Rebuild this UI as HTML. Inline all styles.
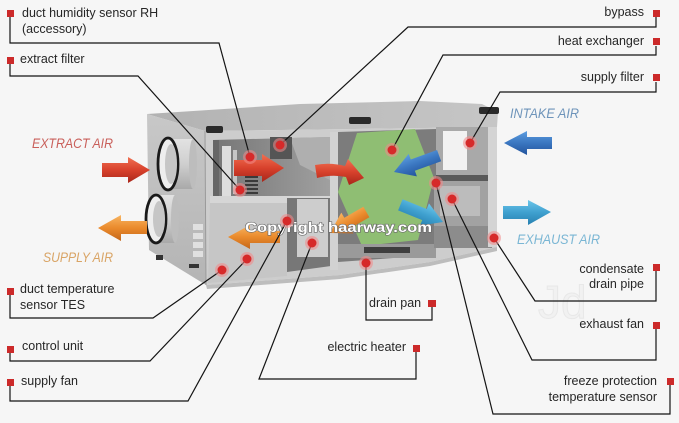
<!DOCTYPE html>
<html><head><meta charset="utf-8"><style>
html,body{margin:0;padding:0;background:#f6f6f6;}
svg{display:block;}
text{font-family:"Liberation Sans",sans-serif;}
</style></head><body>
<svg width="679" height="423" viewBox="0 0 679 423" xmlns="http://www.w3.org/2000/svg">
<defs>
<linearGradient id="gR" x1="0" y1="0" x2="0" y2="1"><stop offset="0" stop-color="#f07052"/><stop offset="0.5" stop-color="#d8412c"/><stop offset="1" stop-color="#a8261a"/></linearGradient>
<linearGradient id="gO" x1="0" y1="0" x2="0" y2="1"><stop offset="0" stop-color="#f8b562"/><stop offset="0.5" stop-color="#ea8a2c"/><stop offset="1" stop-color="#c4661a"/></linearGradient>
<linearGradient id="gB" x1="0" y1="0" x2="0" y2="1"><stop offset="0" stop-color="#5d9ee0"/><stop offset="0.5" stop-color="#3a76c0"/><stop offset="1" stop-color="#23549c"/></linearGradient>
<linearGradient id="gLB" x1="0" y1="0" x2="0" y2="1"><stop offset="0" stop-color="#6cc6ea"/><stop offset="0.5" stop-color="#3fa0cf"/><stop offset="1" stop-color="#2780b0"/></linearGradient>
<linearGradient id="gLeft" x1="0" y1="0" x2="0" y2="1"><stop offset="0" stop-color="#c8c8c8"/><stop offset="1" stop-color="#b4b4b4"/></linearGradient>
<linearGradient id="gTop" x1="0" y1="0" x2="1" y2="0"><stop offset="0" stop-color="#b2b2b2"/><stop offset="1" stop-color="#c6c6c6"/></linearGradient>
<linearGradient id="gIn" x1="0" y1="0" x2="1" y2="0"><stop offset="0" stop-color="#767676"/><stop offset="1" stop-color="#a0a0a0"/></linearGradient>
<linearGradient id="gTube" x1="0" y1="0" x2="0" y2="1"><stop offset="0" stop-color="#e2e2e2"/><stop offset="0.5" stop-color="#cfcfcf"/><stop offset="1" stop-color="#a9a9a9"/></linearGradient>
</defs>
<rect width="679" height="423" fill="#f6f6f6"/>

<!-- faint watermark -->
<text x="538" y="318" font-size="46" fill="#f1f1f1" stroke="#e8e8e8" stroke-width="1">Jd</text>

<!-- ===== UNIT ===== -->
<polygon points="147,114 300,104 420,101 482,104 498,112 497,127 205,131" fill="url(#gTop)"/>
<polygon points="147,114 205,131 206,285 149,250" fill="url(#gLeft)"/>
<polygon points="205,131 497,127 497,247 430,262 340,275 206,285" fill="#cdcdcd"/>
<line x1="205" y1="131" x2="206" y2="285" stroke="#9a9a9a" stroke-width="1"/>
<polygon points="206,285 340,275 430,262 497,247 497,251 430,266 340,279 207,289" fill="#bdbdbd"/>

<!-- upper-left compartment -->
<polygon points="213,140 330,137 330,197 213,199" fill="url(#gIn)"/>
<polygon points="290,138 330,137 330,180 300,165" fill="#afafaf"/>
<rect x="213" y="140" width="6" height="58" fill="#666"/>
<rect x="222" y="146" width="9" height="50" fill="#dedede"/>
<rect x="233" y="150" width="4" height="44" fill="#c6c6c6"/>
<g fill="#3a3a3a"><rect x="245" y="176" width="13" height="2"/><rect x="245" y="180" width="13" height="2"/><rect x="245" y="184" width="13" height="2"/><rect x="245" y="188" width="13" height="2"/><rect x="245" y="192" width="13" height="2"/></g>
<rect x="270" y="137" width="22" height="22" fill="#555"/>
<rect x="210" y="196" width="128" height="7" fill="#d6d6d6"/>

<!-- lower-left panel -->
<polygon points="210,203 287,203 287,276 208,283" fill="#c6c6c6"/>
<g fill="#e0e0e0"><rect x="193" y="224" width="10" height="6"/><rect x="193" y="233" width="10" height="6"/><rect x="193" y="242" width="10" height="6"/><rect x="193" y="251" width="10" height="6"/></g>
<rect x="189" y="264" width="10" height="4" fill="#333"/>
<rect x="156" y="255" width="7" height="5" fill="#333"/>

<!-- lower middle compartment -->
<polygon points="287,198 331,198 331,266 287,272" fill="#777"/>
<rect x="297" y="199" width="31" height="58" fill="#cdcdcd"/>
<rect x="330" y="132" width="8" height="138" fill="#d2d2d2"/>

<!-- heat exchanger compartment -->
<polygon points="338,132 436,129 436,255 338,262" fill="#7c7c7c"/>
<polygon points="357,133 415,129 434,178 418,240 362,246 338,192" fill="#8fbe73"/>
<rect x="338" y="244" width="98" height="14" fill="#9a9a9a"/>
<rect x="364" y="247" width="46" height="6" fill="#3e3e3e"/>

<!-- right section -->
<rect x="436" y="127" width="56" height="50" fill="#a9a9a9"/>
<rect x="443" y="131" width="24" height="39" fill="#f2f2f2"/>
<rect x="436" y="175" width="56" height="6" fill="#5a5a5a"/>
<rect x="434" y="181" width="58" height="52" fill="#a2a2a2"/>
<rect x="440" y="186" width="40" height="30" fill="#bcbcbc"/>
<rect x="434" y="226" width="58" height="22" fill="#8c8c8c"/>
<rect x="488" y="127" width="9" height="120" fill="#d4d4d4"/>

<!-- handles -->
<rect x="206" y="126" width="17" height="7" rx="2" fill="#2a2a2a"/>
<rect x="349" y="117" width="22" height="7" rx="2" fill="#2a2a2a"/>
<rect x="479" y="107" width="20" height="7" rx="2" fill="#2a2a2a"/>

<!-- duct ports -->
<rect x="168" y="139" width="25" height="50" fill="url(#gTube)"/>
<ellipse cx="193" cy="164" rx="4" ry="25" fill="#bdbdbd"/>
<ellipse cx="168" cy="164" rx="10" ry="26" fill="#eeeeee" stroke="#1a1a1a" stroke-width="2.8"/>
<ellipse cx="171" cy="164" rx="6" ry="20" fill="#c6c6c6"/>
<rect x="155" y="195" width="20" height="48" fill="url(#gTube)"/>
<ellipse cx="175" cy="219" rx="4" ry="24" fill="#bdbdbd"/>
<ellipse cx="156" cy="219" rx="10" ry="24" fill="#eeeeee" stroke="#1a1a1a" stroke-width="2.8"/>
<ellipse cx="159" cy="219" rx="6" ry="18" fill="#c6c6c6"/>

<!-- ===== ARROWS ===== -->
<polygon points="102,163 128,163 128,157 150,170 128,183 128,177 102,177" fill="url(#gR)"/>
<polygon points="98,228 121,215 121,221 147,221 147,234 121,234 121,241" fill="url(#gO)"/>
<polygon points="504,143 527,131 527,137 552,137 552,149 527,149 527,155" fill="url(#gB)"/>
<polygon points="503,206 528,206 528,200 551,212 528,225 528,219 503,219" fill="url(#gLB)"/>
<polygon points="234,160 262,160 262,154 284,168 262,182 262,176 234,176" fill="url(#gR)"/>
<path d="M315,165 Q330,162 345,166 L348,159 L364,178 L349,185 L346,177 Q332,174 317,178 Z" fill="url(#gR)"/>
<polygon points="228,237 250,225 250,231 280,231 280,243 250,243 250,249" fill="url(#gO)"/>
<polygon transform="translate(330,233) rotate(-30)" points="0,0 20,-12 20,-6 42,-6 42,6 20,6 20,12" fill="url(#gO)"/>
<polygon transform="translate(394,172) rotate(-20)" points="0,0 20,-12 20,-6 48,-6 48,6 20,6 20,12" fill="url(#gB)"/>
<polygon transform="translate(443,222) rotate(22)" points="0,0 -20,-12 -20,-6 -46,-6 -46,6 -20,6 -20,12" fill="url(#gLB)"/>

<!-- copyright -->
<text x="245" y="232" font-family="Liberation Mono, monospace" font-size="14" font-weight="bold" fill="#ffffff" stroke="#6a6a6a" stroke-width="1.2" paint-order="stroke" textLength="187" lengthAdjust="spacingAndGlyphs">Copyright haarway.com</text>

<!-- ===== LEADER LINES ===== -->
<g fill="none" stroke="#141414" stroke-width="1.2">
<polyline points="10,17 10,43 219,43 250,157"/>
<polyline points="10,63 10,76 138,76 240,190"/>
<polyline points="656,17 656,27 408,27 280,145"/>
<polyline points="656,46 656,55 443,55 392,150"/>
<polyline points="656,82 656,92 500,92 470,143"/>
<polyline points="656,271 656,301 535,301 494,238"/>
<polyline points="656,329 656,360 532,360 452,199"/>
<polyline points="670,385 670,414 493,414 436,183"/>
<polyline points="432,307 432,320 366,320 366,263"/>
<polyline points="416,352 416,379 259,379 312,243"/>
<polyline points="10,386 10,401 188,401 287,221"/>
<polyline points="10,353 10,361 150,361 247,259"/>
<polyline points="10,295 10,318 153,318 222,270"/>
</g>

<!-- dots -->
<g>
<g fill="#f28a8a" opacity="0.55">
<circle cx="250" cy="157" r="7"/><circle cx="240" cy="190" r="7"/><circle cx="280" cy="145" r="7"/><circle cx="392" cy="150" r="7"/><circle cx="470" cy="143" r="7"/><circle cx="436" cy="183" r="7"/><circle cx="452" cy="199" r="7"/><circle cx="494" cy="238" r="7"/><circle cx="366" cy="263" r="7"/><circle cx="312" cy="243" r="7"/><circle cx="287" cy="221" r="7"/><circle cx="247" cy="259" r="7"/><circle cx="222" cy="270" r="7"/>
</g>
<g fill="#d62a2a">
<circle cx="250" cy="157" r="4.5"/><circle cx="240" cy="190" r="4.5"/><circle cx="280" cy="145" r="4.5"/><circle cx="392" cy="150" r="4.5"/><circle cx="470" cy="143" r="4.5"/><circle cx="436" cy="183" r="4.5"/><circle cx="452" cy="199" r="4.5"/><circle cx="494" cy="238" r="4.5"/><circle cx="366" cy="263" r="4.5"/><circle cx="312" cy="243" r="4.5"/><circle cx="287" cy="221" r="4.5"/><circle cx="247" cy="259" r="4.5"/><circle cx="222" cy="270" r="4.5"/>
</g>
</g>

<!-- squares -->
<g fill="#cc2a2a">
<rect x="7" y="10" width="7" height="7"/>
<rect x="7" y="57" width="7" height="7"/>
<rect x="653" y="10" width="7" height="7"/>
<rect x="653" y="38" width="7" height="7"/>
<rect x="653" y="74" width="7" height="7"/>
<rect x="653" y="264" width="7" height="7"/>
<rect x="653" y="322" width="7" height="7"/>
<rect x="667" y="378" width="7" height="7"/>
<rect x="428" y="300" width="8" height="7"/>
<rect x="413" y="345" width="7" height="7"/>
<rect x="7" y="288" width="7" height="7"/>
<rect x="7" y="346" width="7" height="7"/>
<rect x="7" y="379" width="7" height="7"/>
</g>

<!-- labels -->
<g font-size="12.5" fill="#262626">
<text x="22" y="17">duct humidity sensor RH</text>
<text x="22" y="33">(accessory)</text>
<text x="20" y="63">extract filter</text>
<text x="644" y="16" text-anchor="end">bypass</text>
<text x="644" y="45" text-anchor="end">heat exchanger</text>
<text x="644" y="81" text-anchor="end">supply filter</text>
<text x="644" y="273" text-anchor="end">condensate</text>
<text x="644" y="288" text-anchor="end">drain pipe</text>
<text x="644" y="328" text-anchor="end">exhaust fan</text>
<text x="657" y="385" text-anchor="end">freeze protection</text>
<text x="657" y="401" text-anchor="end">temperature sensor</text>
<text x="369" y="307">drain pan</text>
<text x="406" y="351" text-anchor="end">electric heater</text>
<text x="20" y="293">duct temperature</text>
<text x="20" y="309">sensor TES</text>
<text x="22" y="350">control unit</text>
<text x="21" y="385">supply fan</text>
</g>

<!-- air labels -->
<g font-size="14" font-style="italic">
<text x="32" y="148" fill="#c95f5a" textLength="81" lengthAdjust="spacingAndGlyphs">EXTRACT AIR</text>
<text x="43" y="262" fill="#d9a465" textLength="70" lengthAdjust="spacingAndGlyphs">SUPPLY AIR</text>
<text x="510" y="118" fill="#6e94ba" textLength="69" lengthAdjust="spacingAndGlyphs">INTAKE AIR</text>
<text x="517" y="244" fill="#7ab6d4" textLength="83" lengthAdjust="spacingAndGlyphs">EXHAUST AIR</text>
</g>
</svg>
</body></html>
